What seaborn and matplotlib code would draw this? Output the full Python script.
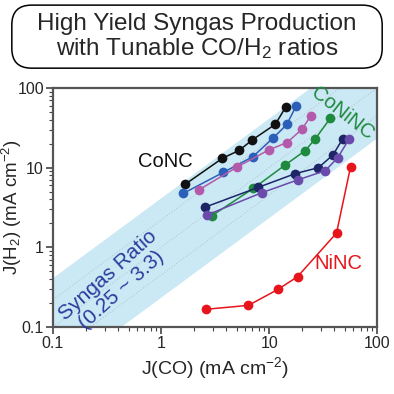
import numpy as np
import pandas as pd
import seaborn as sns
import matplotlib.pyplot as plt
from matplotlib.patches import FancyBboxPatch

sns.set_style('white')
plt.rcParams['font.family'] = ['Liberation Sans', 'DejaVu Sans']
plt.rcParams['mathtext.default'] = 'regular'

# J(CO), J(H2) in mA cm-2
conc_co = [1.67, 3.70, 5.31, 6.96, 11.4, 14.2]
conc_h2 = [6.17, 13.1, 16.5, 22.2, 34.9, 57.1]
blue_co = [1.61, 3.78, 7.06, 10.96, 14.6, 17.8]
blue_h2 = [4.76, 8.73, 13.7, 23.7, 34.9, 59.8]
pink_co = [2.22, 5.09, 9.86, 14.6, 20.1, 24.3]
pink_h2 = [5.24, 10.2, 16.6, 20.6, 30.2, 44.8]
green_co = [2.95, 7.16, 14.1, 21.5, 26.7, 36.7]
green_h2 = [2.49, 5.50, 10.8, 16.3, 22.9, 41.5]
navy_co = [2.54, 7.96, 17.4, 28.6, 38.9, 48.1]
navy_h2 = [3.18, 5.66, 8.39, 9.98, 14.4, 23.1]
purple_co = [2.65, 8.55, 18.3, 33.0, 42.9, 54.7]
purple_h2 = [2.54, 4.84, 6.99, 9.14, 13.2, 22.6]
ninc_co = [2.61, 6.43, 12.1, 18.3, 42.0, 56.6]
ninc_h2 = [0.167, 0.187, 0.297, 0.428, 1.51, 10.2]

series = {
    'CoNC': (conc_co, conc_h2, '#111111'),
    'blue': (blue_co, blue_h2, '#2c5fb8'),
    'pink': (pink_co, pink_h2, '#b45aaa'),
    'green': (green_co, green_h2, '#1e8a3e'),
    'navy': (navy_co, navy_h2, '#1d2566'),
    'purple': (purple_co, purple_h2, '#6a4aaa'),
    'NiNC': (ninc_co, ninc_h2, '#e8141c'),
}

rows = []
for name, (co, h2, c) in series.items():
    for a, b in zip(co, h2):
        rows.append({'name': name, 'co': a, 'h2': b})
df = pd.DataFrame(rows)
palette = {k: v[2] for k, v in series.items()}

fig = plt.figure(figsize=(3.94, 3.94), dpi=100)
ax = fig.add_axes([0.1345, 0.170, 0.823, 0.607])

# syngas ratio band
xs = np.logspace(-1, 2, 200)
ax.fill_between(xs, xs / 4.2, xs * 4.2, color='#cbe8f5', lw=0, zorder=0)
for r in [2.2, 1.0, 0.45]:
    ax.plot(xs, xs * r, ls=':', color='#b8c8d0', lw=0.8, zorder=0.5)

sns.lineplot(data=df, x='co', y='h2', hue='name', palette=palette,
             sort=False, estimator=None, units='name', marker='o',
             markersize=7, markeredgewidth=0, lw=1.1, legend=False, ax=ax)

ax.set_xscale('log')
ax.set_yscale('log')
ax.set_xlim(0.1, 100)
ax.set_ylim(0.1, 100)
ax.set_xticks([0.1, 1, 10, 100])
ax.set_xticklabels(['0.1', '1', '10', '100'])
ax.set_yticks([0.1, 1, 10, 100])
ax.set_yticklabels(['0.1', '1', '10', '100'])
ax.tick_params(which='major', direction='out', length=5, width=1.2,
               labelsize=11.5, color='#444444', pad=1.5, bottom=True, left=True)
ax.tick_params(which='minor', direction='out', length=3, width=0.8,
               color='#444444', bottom=True, left=True)
for s in ax.spines.values():
    s.set_color('#555555')
    s.set_linewidth(1.6)
ax.set_xlabel('J(CO) (mA cm$^{-2}$)', fontsize=14, labelpad=3)
ax.set_ylabel('J(H$_2$) (mA cm$^{-2}$)', fontsize=13.5)
ax.yaxis.set_label_coords(-0.088, 0.5)

ax.text(1.09, 11.8, 'CoNC', fontsize=14.5, color='#111111', ha='center', va='center')
ax.text(48, 48, 'CoNiNC', fontsize=14.5, color='#1e8a3e', ha='center', va='center',
        rotation=-38)
ax.text(43.5, 0.635, 'NiNC', fontsize=14.5, color='#e8141c', ha='center', va='center')
ax.text(0.37, 0.36, 'Syngas Ratio\n(0.25 ~ 3.3)', fontsize=15, color='#2a3c9c',
        ha='center', va='center', rotation=42, linespacing=1.05)

box = FancyBboxPatch((0.030, 0.827), 0.940, 0.160, transform=fig.transFigure,
                     boxstyle='round,pad=0,rounding_size=0.05', fc='white',
                     ec='black', lw=1.1)
fig.patches.append(box)
fig.text(0.5, 0.906, 'High Yield Syngas Production\nwith Tunable CO/H$_2$ ratios',
         ha='center', va='center', fontsize=17.5, linespacing=1.1)

fig.savefig('out.png', dpi=100)
